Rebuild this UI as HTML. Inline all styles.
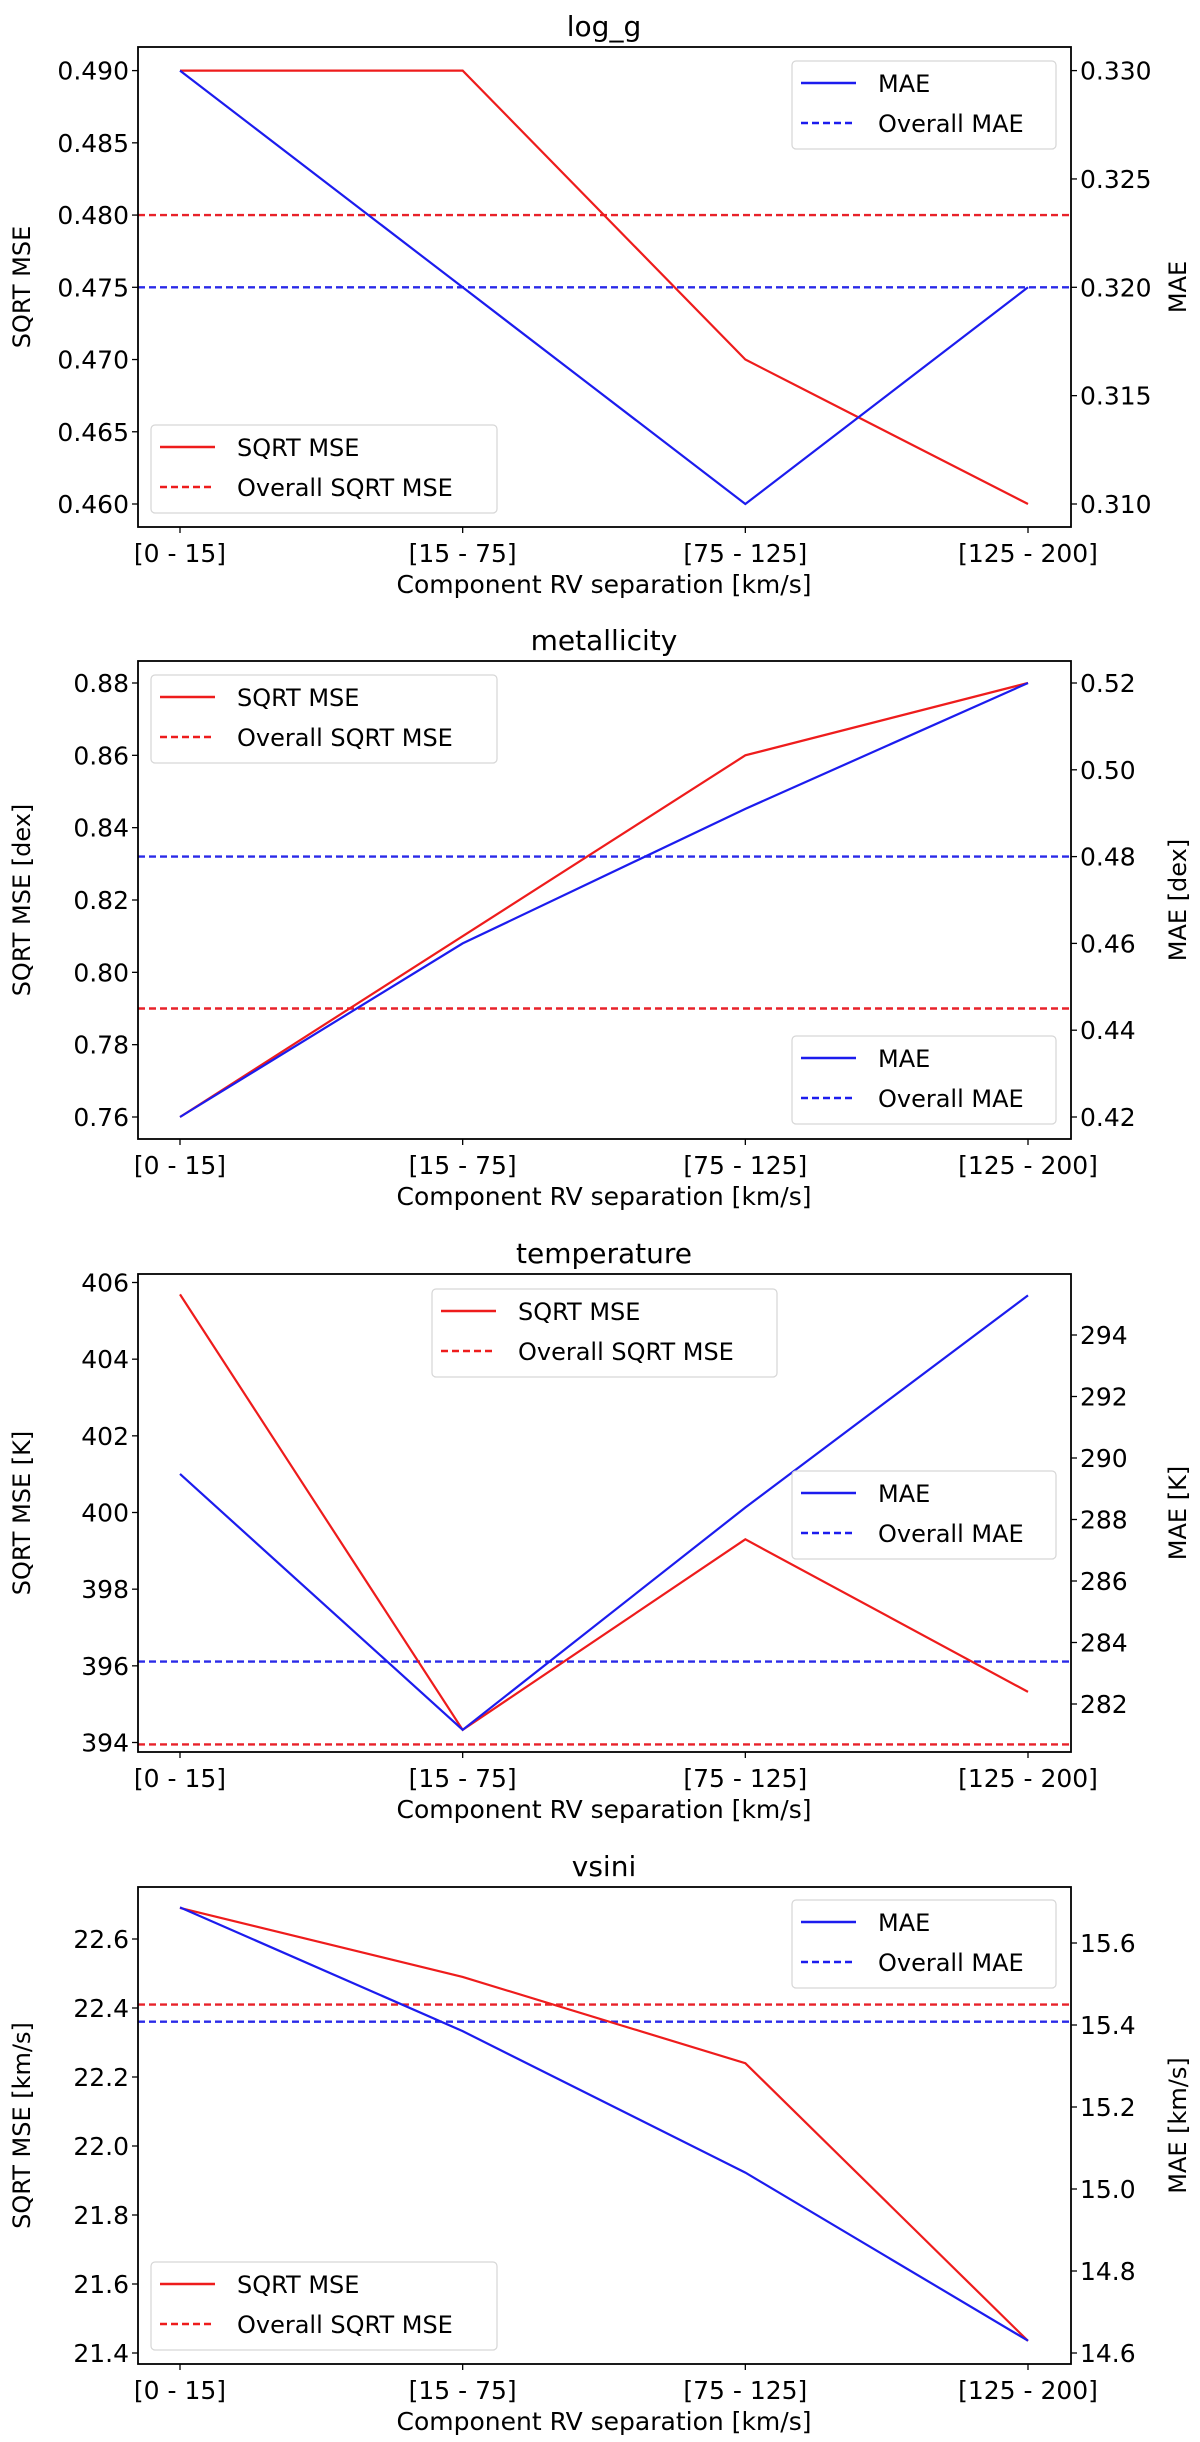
<!DOCTYPE html>
<html><head><meta charset="utf-8"><style>
html,body{margin:0;padding:0;background:#fff;}
svg{display:block;font-family:"DejaVu Sans","Liberation Sans",sans-serif;}
</style></head><body>
<svg id="fig" width="1200" height="2442" viewBox="0 0 1200 2442" xmlns="http://www.w3.org/2000/svg"></svg>
<script>
const categories = ["[0 - 15]", "[15 - 75]", "[75 - 125]", "[125 - 200]"];

const loggSqrtMse = [0.490, 0.490, 0.470, 0.460];
const loggMae = [0.330, 0.320, 0.310, 0.320];
const loggOverall = [0.480, 0.320];
const loggLeftTicks = [0.460, 0.465, 0.470, 0.475, 0.480, 0.485, 0.490];
const loggRightTicks = [0.310, 0.315, 0.320, 0.325, 0.330];

const metSqrtMse = [0.760, 0.810, 0.860, 0.880];
const metMae = [0.420, 0.460, 0.491, 0.520];
const metOverall = [0.790, 0.480];
const metLeftTicks = [0.76, 0.78, 0.80, 0.82, 0.84, 0.86, 0.88];
const metRightTicks = [0.42, 0.44, 0.46, 0.48, 0.50, 0.52];

const tempSqrtMse = [405.69, 394.33, 399.30, 395.32];
const tempMae = [289.48, 281.16, 288.39, 295.29];
const tempOverall = [393.95, 283.38];
const tempLeftTicks = [394, 396, 398, 400, 402, 404, 406];
const tempRightTicks = [282, 284, 286, 288, 290, 292, 294];

const vsSqrtMse = [22.69, 22.49, 22.24, 21.435];
const vsMae = [15.687, 15.385, 15.04, 14.63];
const vsOverall = [22.41, 15.408];
const vsLeftTicks = [21.4, 21.6, 21.8, 22.0, 22.2, 22.4, 22.6];
const vsRightTicks = [14.6, 14.8, 15.0, 15.2, 15.4, 15.6];

const NS = "http://www.w3.org/2000/svg";
const svg = document.getElementById('fig');
function el(tag, attrs, parent, text){
  const e = document.createElementNS(NS, tag);
  for (const k in attrs) e.setAttribute(k, attrs[k]);
  if (text !== undefined) e.textContent = text;
  (parent||svg).appendChild(e);
  return e;
}
const L = 138, R = 1071;
const xPos = i => 180 + i * (1028 - 180) / 3;

function drawChart(cfg){
  const g = el('g', {});
  
  
  const yl = v => cfg.l0y + (v - cfg.l0) / (cfg.l1 - cfg.l0) * (cfg.l1y - cfg.l0y);
  const yr = v => cfg.r0y + (v - cfg.r0) / (cfg.r1 - cfg.r0) * (cfg.r1y - cfg.r0y);
  const t = el('text', {x: 604, y: cfg.top - 11, 'text-anchor': 'middle', 'font-size': 28, fill: '#000'}, g, cfg.title);
  
  
  const o1 = el('line', {x1: L, x2: R, y1: yl(cfg.overall[0]), y2: yl(cfg.overall[0]), stroke: '#e8222a', 'stroke-width': 2.4, 'stroke-dasharray': '7,4'}, g);
  
  
  const o2 = el('line', {x1: L, x2: R, y1: yr(cfg.overall[1]), y2: yr(cfg.overall[1]), stroke: '#2a2ae8', 'stroke-width': 2.4, 'stroke-dasharray': '7,4'}, g);
  
  
  const p1 = el('polyline', {points: cfg.sq.map((v,i)=>xPos(i)+','+yl(v)).join(' '), fill: 'none', stroke: '#ee1c1c', 'stroke-width': 2.2}, g);
  
  
  const p2 = el('polyline', {points: cfg.mae.map((v,i)=>xPos(i)+','+yr(v)).join(' '), fill: 'none', stroke: '#1c1cee', 'stroke-width': 2.2}, g);
  
  
  const fr = el('rect', {x: L, y: cfg.top, width: R - L, height: cfg.bot - cfg.top, fill: 'none', stroke: '#000', 'stroke-width': 1.8}, g);
  
  
  cfg.lt.forEach(v => {
    const y = yl(v);
    el('line', {x1: L - 6, x2: L, y1: y, y2: y, stroke: '#000', 'stroke-width': 1.3}, g);
    const tx = el('text', {x: L - 9, y: y + 9, 'text-anchor': 'end', 'font-size': 25}, g, v.toFixed(cfg.ld));
    
    
  });
  cfg.rt.forEach(v => {
    const y = yr(v);
    el('line', {x1: R, x2: R + 6, y1: y, y2: y, stroke: '#000', 'stroke-width': 1.3}, g);
    const tx = el('text', {x: R + 9, y: y + 9, 'text-anchor': 'start', 'font-size': 25}, g, v.toFixed(cfg.rd));
    
    
  });
  categories.forEach((c, i) => {
    el('line', {x1: xPos(i), x2: xPos(i), y1: cfg.bot, y2: cfg.bot + 6, stroke: '#000', 'stroke-width': 1.3}, g);
    const tx = el('text', {x: xPos(i), y: cfg.bot + 35, 'text-anchor': 'middle', 'font-size': 25}, g, c);
    
    
  });
  const xl = el('text', {x: 604, y: cfg.bot + 66, 'text-anchor': 'middle', 'font-size': 25}, g, 'Component RV separation [km/s]');
  
  
  const my = (cfg.top + cfg.bot) / 2;
  const yla = el('text', {x: 0, y: 0, 'text-anchor': 'middle', 'font-size': 24, transform: `translate(30,${my}) rotate(-90)`}, g, cfg.ylabL);
  
  
  const yra = el('text', {x: 0, y: 0, 'text-anchor': 'middle', 'font-size': 24, transform: `translate(1186,${my}) rotate(-90)`}, g, cfg.ylabR);
  
  
  cfg.legends.forEach(lg => {
    const lgG = el('g', {}, g);
    
    
    el('rect', {x: lg.x, y: lg.y, width: lg.w, height: 88, rx: 4, fill: '#fff', 'fill-opacity': 0.85, stroke: '#d6d6d6', 'stroke-width': 1.2}, lgG);
    const col = lg.kind === 'sq' ? '#ee1c1c' : '#1c1cee';
    const names = lg.kind === 'sq' ? ['SQRT MSE', 'Overall SQRT MSE'] : ['MAE', 'Overall MAE'];
    [0, 1].forEach(k => {
      const yy = lg.y + 22 + k * 40;
      el('line', {x1: lg.x + 9, x2: lg.x + 64, y1: yy, y2: yy, stroke: col, 'stroke-width': 2.6, 'stroke-dasharray': k ? '7,4' : 'none'}, lgG);
      const tx = el('text', {x: lg.x + 86, y: yy + 9, 'font-size': 24}, lgG, names[k]);
      
      
    });
  });
}

drawChart({id: 'log-g', title: 'log_g', top: 47, bot: 527,
  l0: 0.490, l0y: 70.6, l1: 0.460, l1y: 504, r0: 0.330, r0y: 70.6, r1: 0.310, r1y: 504,
  sq: loggSqrtMse, mae: loggMae, overall: loggOverall, lt: loggLeftTicks, rt: loggRightTicks, ld: 3, rd: 3,
  ylabL: 'SQRT MSE', ylabR: 'MAE',
  legends: [{kind: 'mae', x: 792, y: 61, w: 264}, {kind: 'sq', x: 151, y: 425, w: 346}]});

drawChart({id: 'metallicity', title: 'metallicity', top: 661, bot: 1139,
  l0: 0.88, l0y: 683, l1: 0.76, l1y: 1117, r0: 0.52, r0y: 683, r1: 0.42, r1y: 1117,
  sq: metSqrtMse, mae: metMae, overall: metOverall, lt: metLeftTicks, rt: metRightTicks, ld: 2, rd: 2,
  ylabL: 'SQRT MSE [dex]', ylabR: 'MAE [dex]',
  legends: [{kind: 'sq', x: 151, y: 675, w: 346}, {kind: 'mae', x: 792, y: 1036, w: 264}]});

drawChart({id: 'temperature', title: 'temperature', top: 1274, bot: 1752,
  l0: 406, l0y: 1282.5, l1: 394, l1y: 1742.5, r0: 294, r0y: 1335, r1: 282, r1y: 1704,
  sq: tempSqrtMse, mae: tempMae, overall: tempOverall, lt: tempLeftTicks, rt: tempRightTicks, ld: 0, rd: 0,
  ylabL: 'SQRT MSE [K]', ylabR: 'MAE [K]',
  legends: [{kind: 'sq', x: 432, y: 1289, w: 345}, {kind: 'mae', x: 792, y: 1471, w: 264}]});

drawChart({id: 'vsini', title: 'vsini', top: 1887, bot: 2364,
  l0: 22.6, l0y: 1939, l1: 21.4, l1y: 2353, r0: 15.6, r0y: 1943, r1: 14.6, r1y: 2353,
  sq: vsSqrtMse, mae: vsMae, overall: vsOverall, lt: vsLeftTicks, rt: vsRightTicks, ld: 1, rd: 1,
  ylabL: 'SQRT MSE [km/s]', ylabR: 'MAE [km/s]',
  legends: [{kind: 'mae', x: 792, y: 1900, w: 264}, {kind: 'sq', x: 151, y: 2262, w: 346}]});
</script>
</body></html>
